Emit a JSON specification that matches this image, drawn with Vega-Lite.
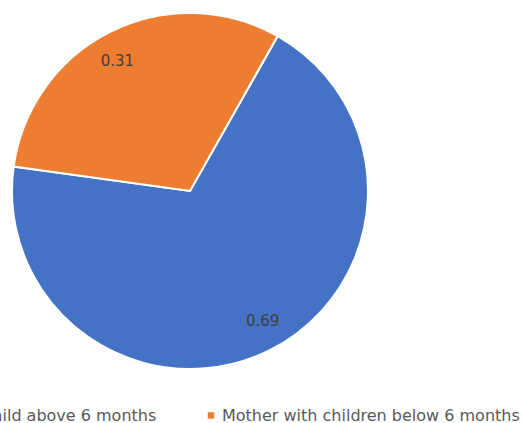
{
  "$schema": "https://vega.github.io/schema/vega-lite/v6.json",
  "autosize": "none",
  "width": 380,
  "height": 382,
  "padding": {"left": 0, "top": 0, "right": 143, "bottom": 41},
  "background": "white",
  "config": {"view": {"stroke": null}},
  "data": {
    "values": [
      {"group": "Mother with child above 6 months", "value": 0.69, "order": 1},
      {"group": "Mother with children below 6 months", "value": 0.31, "order": 2}
    ]
  },
  "encoding": {
    "theta": {"field": "value", "type": "quantitative", "stack": true, "scale": {"range": [0.515, 6.798]}},
    "order": {"field": "order", "type": "ordinal"},
    "color": {
      "field": "group",
      "type": "nominal",
      "scale": {"domain": ["Mother with child above 6 months", "Mother with children below 6 months"], "range": ["#4472C4", "#ED7D31"]},
      "legend": {
        "title": null,
        "orient": "none",
        "direction": "horizontal",
        "legendX": -136,
        "legendY": 407.5,
        "symbolType": "square",
        "symbolSize": 42,
        "symbolStrokeWidth": 0,
        "labelFont": "DejaVu Sans",
        "labelFontSize": 16,
        "labelColor": "#595959",
        "labelOffset": 3,
        "columnPadding": 46,
        "labelLimit": 400
      }
    }
  },
  "layer": [
    {
      "mark": {"type": "arc", "outerRadius": 178, "stroke": "white", "strokeWidth": 2}
    },
    {
      "mark": {"type": "text", "radius": 149, "thetaOffset": -0.05, "font": "DejaVu Sans", "fontSize": 15, "color": "#404040"},
      "encoding": {
        "text": {"field": "value", "type": "quantitative", "format": ".2f"},
        "color": {"value": "#404040"}
      }
    }
  ]
}
